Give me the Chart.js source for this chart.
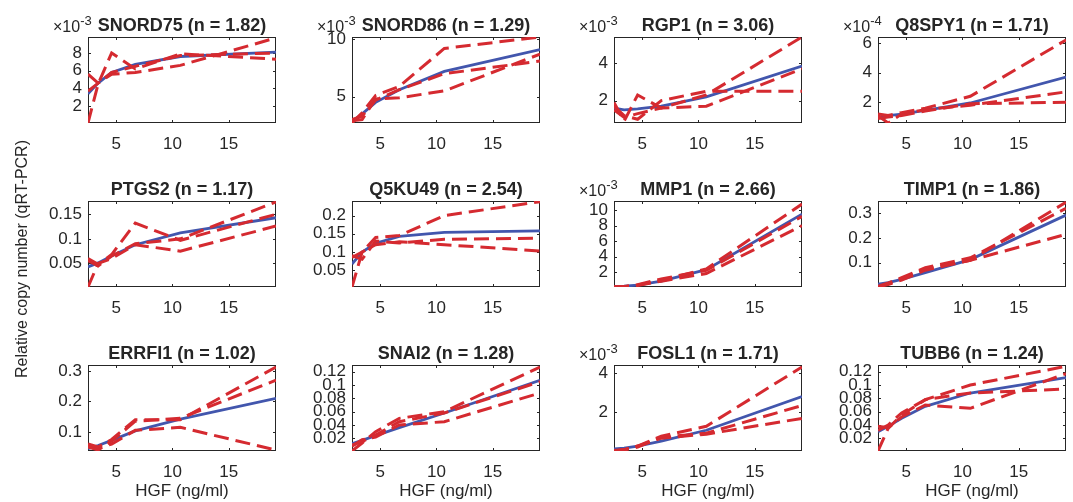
<!DOCTYPE html>
<html>
<head>
<meta charset="utf-8">
<script src="https://cdn.jsdelivr.net/npm/chart.js@4.4.0/dist/chart.umd.min.js"></script>
<style>
    body { margin: 0; background: #fff; }
    #fig { position: relative; width: 1073px; height: 502px; overflow: hidden; font-family: "Liberation Sans", Arial, Helvetica, sans-serif; color: #262626; }
    #fig canvas { position: absolute; }
    .xlabel { position: absolute; width: 188px; font-size: 17px; line-height: 17px; text-align: center; white-space: nowrap; }
    .ylabel { position: absolute; width: 300px; font-size: 16px; line-height: 16px; text-align: center; white-space: nowrap; transform: rotate(-90deg); }
</style>
</head>
<body>
<div id="fig"></div>
<script>
// HGF doses (ng/ml)
const hgfDose = [2.5, 3.4, 4.6, 6.7, 10.7, 19.2];
const xTicks = [5, 10, 15];

const geneNames = ['SNORD75', 'SNORD86', 'RGP1', 'Q8SPY1', 'PTGS2', 'Q5KU49', 'MMP1', 'TIMP1', 'ERRFI1', 'SNAI2', 'FOSL1', 'TUBB6'];
const hillN = ['1.82', '1.29', '3.06', '1.71', '1.17', '2.54', '2.66', '1.86', '1.02', '1.28', '1.71', '1.24'];

// axis exponent shown as "x10^k" above the axis (0 = none)
const yExponent = [-3, -3, -3, -4, 0, 0, -3, 0, 0, 0, -3, 0];
const yMin = [0.0001, 0.0027, 0.0008, 0.00006, 0.002, 0.004, 0.00005, 0.002, 0.037, 0.001, 0.00005, 0.001];
const yMax = [0.0098, 0.0102, 0.0054, 0.00064, 0.177, 0.240, 0.0112, 0.35, 0.32, 0.13, 0.0044, 0.13];
const yTicks = [
    [0.002, 0.004, 0.006, 0.008],
    [0.005, 0.01],
    [0.002, 0.004],
    [0.0002, 0.0004, 0.0006],
    [0.05, 0.1, 0.15],
    [0.05, 0.1, 0.15, 0.2],
    [0.002, 0.004, 0.006, 0.008, 0.01],
    [0.1, 0.2, 0.3],
    [0.1, 0.2, 0.3],
    [0.02, 0.04, 0.06, 0.08, 0.1, 0.12],
    [0.002, 0.004],
    [0.02, 0.04, 0.06, 0.08, 0.1, 0.12],
];

// Hill fit (solid blue)
const fitCurves = [
    [0.0034, 0.0046, 0.0058, 0.0067, 0.0076, 0.0081],
    [0.0028, 0.0035, 0.0045, 0.0056, 0.0072, 0.0091],
    [0.0016, 0.0015, 0.00155, 0.0017, 0.0022, 0.00385],
    [0.0001, 0.00011, 0.00012, 0.000145, 0.000195, 0.00037],
    [0.043, 0.051, 0.065, 0.088, 0.112, 0.143],
    [0.067, 0.1, 0.124, 0.143, 0.154, 0.158],
    [0.0001, 0.00015, 0.0003, 0.0008, 0.0023, 0.0095],
    [0.013, 0.02, 0.033, 0.06, 0.113, 0.293],
    [0.045, 0.055, 0.072, 0.103, 0.142, 0.21],
    [0.012, 0.017, 0.024, 0.036, 0.058, 0.107],
    [0.00015, 0.0002, 0.0003, 0.00055, 0.0011, 0.0028],
    [0.03, 0.038, 0.05, 0.068, 0.088, 0.111],
];

// replicates (dashed red)
const replicateA = [
    [0.0056, 0.0046, 0.0058, 0.0065, 0.0077, 0.0080],
    [0.0027, 0.0036, 0.0051, 0.0059, 0.0092, 0.0102],
    [0.0019, 0.0009, 0.0023, 0.0016, 0.0023, 0.0054],
    [0.00012, 0.00011, 0.00013, 0.00016, 0.00024, 0.00062],
    [0.060, 0.048, 0.068, 0.132, 0.097, 0.150],
    [0.004, 0.100, 0.140, 0.145, 0.200, 0.238],
    [0.00005, 0.0001, 0.0003, 0.0009, 0.0024, 0.0108],
    [0.002, 0.015, 0.035, 0.075, 0.110, 0.345],
    [0.060, 0.050, 0.075, 0.140, 0.140, 0.313],
    [0.001, 0.013, 0.030, 0.050, 0.060, 0.127],
    [0.00005, 0.00012, 0.0003, 0.0008, 0.0013, 0.0043],
    [0.001, 0.035, 0.055, 0.078, 0.100, 0.128],
];
const replicateB = [
    [0.0001, 0.0045, 0.0080, 0.0062, 0.0079, 0.0073],
    [0.0030, 0.0033, 0.0047, 0.0056, 0.0070, 0.0081],
    [0.0017, 0.0012, 0.0010, 0.0020, 0.0025, 0.0025],
    [0.00011, 0.00006, 0.00012, 0.00015, 0.00018, 0.00027],
    [0.002, 0.050, 0.060, 0.088, 0.075, 0.126],
    [0.090, 0.080, 0.130, 0.125, 0.135, 0.138],
    [0.00005, 0.0001, 0.00035, 0.0011, 0.0022, 0.0092],
    [0.005, 0.018, 0.040, 0.080, 0.120, 0.320],
    [0.050, 0.040, 0.070, 0.135, 0.145, 0.270],
    [0.010, 0.015, 0.025, 0.045, 0.058, 0.105],
    [0.00005, 0.0001, 0.00025, 0.00075, 0.00095, 0.00235],
    [0.038, 0.036, 0.052, 0.070, 0.065, 0.117],
];
const replicateC = [
    [0.0037, 0.0046, 0.0056, 0.0058, 0.0066, 0.0097],
    [0.0029, 0.0030, 0.0048, 0.0049, 0.0055, 0.0087],
    [0.0015, 0.0011, 0.0013, 0.0016, 0.0017, 0.0037],
    [0.00009, 0.00010, 0.00011, 0.00014, 0.00019, 0.00020],
    [0.056, 0.045, 0.065, 0.090, 0.100, 0.175],
    [0.085, 0.100, 0.120, 0.128, 0.120, 0.103],
    [0.00005, 0.00008, 0.00025, 0.0008, 0.0018, 0.0080],
    [0.003, 0.012, 0.030, 0.070, 0.110, 0.215],
    [0.055, 0.045, 0.060, 0.105, 0.115, 0.040],
    [0.008, 0.018, 0.022, 0.040, 0.045, 0.088],
    [0.00007, 0.00012, 0.0003, 0.0007, 0.0009, 0.0017],
    [0.032, 0.040, 0.058, 0.078, 0.088, 0.094],
];

const blue = '#4256AD';
const red = '#D52A30';
const axisColor = '#262626';
const fontFamily = '"Liberation Sans", Arial, Helvetica, sans-serif';

// plot-area layout
const colLeft = [88, 352, 614, 878];
const rowTop = [37, 201, 365];
const plotW = 188, plotH = 86;
const padL = 62, padT = 30, padR = 4, padB = 32;

const toPoints = (ys) => hgfDose.map((x, i) => ({ x, y: ys[i] }));

// MATLAB-like box with inward ticks, title and exponent label
const decorPlugin = {
    id: 'decor',
    beforeDatasetsDraw(chart) {
        const { ctx, chartArea: a, scales } = chart;
        const t = 3;
        ctx.save();
        ctx.strokeStyle = axisColor;
        ctx.lineWidth = 1;
        ctx.strokeRect(Math.round(a.left) + 0.5, Math.round(a.top) + 0.5, Math.round(a.right - a.left) - 1, Math.round(a.bottom - a.top) - 1);
        ctx.beginPath();
        scales.y.ticks.forEach(tk => {
            const py = Math.round(scales.y.getPixelForValue(tk.value)) + 0.5;
            ctx.moveTo(a.left, py); ctx.lineTo(a.left + t, py);
            ctx.moveTo(a.right, py); ctx.lineTo(a.right - t, py);
        });
        scales.x.ticks.forEach(tk => {
            const px = Math.round(scales.x.getPixelForValue(tk.value)) + 0.5;
            ctx.moveTo(px, a.bottom); ctx.lineTo(px, a.bottom - t);
            ctx.moveTo(px, a.top); ctx.lineTo(px, a.top + t);
        });
        ctx.stroke();
        ctx.restore();
    },
    afterDraw(chart, args, opts) {
        const { ctx, chartArea: a } = chart;
        ctx.save();
        ctx.fillStyle = axisColor;
        ctx.textBaseline = 'alphabetic';
        let expRight = -Infinity;
        if (opts.exponent) {
            let x = a.left - 35;
            ctx.font = `16px ${fontFamily}`;
            ctx.fillText('\u00d710', x, a.top - 5);
            x += ctx.measureText('\u00d710').width;
            ctx.font = `13px ${fontFamily}`;
            ctx.fillText(String(opts.exponent), x, a.top - 12);
            expRight = x + ctx.measureText(String(opts.exponent)).width;
        }
        ctx.font = `bold 18px ${fontFamily}`;
        const w = ctx.measureText(opts.title).width;
        let cx = (a.left + a.right) / 2;
        if (cx - w / 2 < expRight + 5) cx = expRight + 5 + w / 2;
        ctx.textAlign = 'center';
        ctx.fillText(opts.title, cx, a.top - 6);
        ctx.restore();
    }
};

function buildPanel(i) {
    const col = i % 4, row = Math.floor(i / 4);
    const canvas = document.createElement('canvas');
    canvas.width = padL + plotW + padR;
    canvas.height = padT + plotH + padB;
    canvas.style.left = (colLeft[col] - padL) + 'px';
    canvas.style.top = (rowTop[row] - padT) + 'px';
    document.getElementById('fig').appendChild(canvas);

    const scaleDiv = Math.pow(10, yExponent[i]);
    const dashed = (ys) => ({
        data: toPoints(ys),
        borderColor: red,
        borderWidth: 3,
        borderDash: [15, 7],
        pointRadius: 0,
        tension: 0,
    });

    new Chart(canvas, {
        type: 'line',
        data: {
            datasets: [
                dashed(replicateA[i]),
                dashed(replicateB[i]),
                dashed(replicateC[i]),
                { data: toPoints(fitCurves[i]), borderColor: blue, borderWidth: 2.8, pointRadius: 0, tension: 0 },
            ]
        },
        options: {
            responsive: false,
            animation: false,
            devicePixelRatio: 1,
            layout: { padding: { top: padT, right: padR, left: 0, bottom: 0 } },
            plugins: {
                legend: { display: false },
                tooltip: { enabled: false },
                decor: { title: `${geneNames[i]} (n = ${hillN[i]})`, exponent: yExponent[i] },
            },
            scales: {
                x: {
                    type: 'linear',
                    min: hgfDose[0],
                    max: hgfDose[hgfDose.length - 1],
                    grid: { display: false, drawTicks: false },
                    border: { display: false },
                    afterBuildTicks: (s) => { s.ticks = xTicks.map(v => ({ value: v })); },
                    afterFit: (s) => { s.height = padB; },
                    ticks: { color: axisColor, padding: 11, maxRotation: 0, autoSkip: false, font: { family: fontFamily, size: 17 } },
                },
                y: {
                    type: 'linear',
                    min: yMin[i],
                    max: yMax[i],
                    grid: { display: false, drawTicks: false },
                    border: { display: false },
                    afterBuildTicks: (s) => { s.ticks = yTicks[i].map(v => ({ value: v })); },
                    afterFit: (s) => { s.width = padL; },
                    ticks: {
                        color: axisColor,
                        padding: 6,
                        autoSkip: false,
                        font: { family: fontFamily, size: 17 },
                        callback: (v) => String(+(v / scaleDiv).toFixed(6)),
                    },
                },
            },
        },
        plugins: [decorPlugin],
    });
}

geneNames.forEach((name, i) => buildPanel(i));

// axis titles
const fig = document.getElementById('fig');
colLeft.forEach(left => {
    const lbl = document.createElement('div');
    lbl.className = 'xlabel';
    lbl.textContent = 'HGF (ng/ml)';
    lbl.style.left = left + 'px';
    lbl.style.top = '482px';
    fig.appendChild(lbl);
});
const ylbl = document.createElement('div');
ylbl.className = 'ylabel';
ylbl.textContent = 'Relative copy number (qRT-PCR)';
ylbl.style.left = (21.5 - 150) + 'px';
ylbl.style.top = (259 - 8) + 'px';
fig.appendChild(ylbl);
</script>
</body>
</html>
